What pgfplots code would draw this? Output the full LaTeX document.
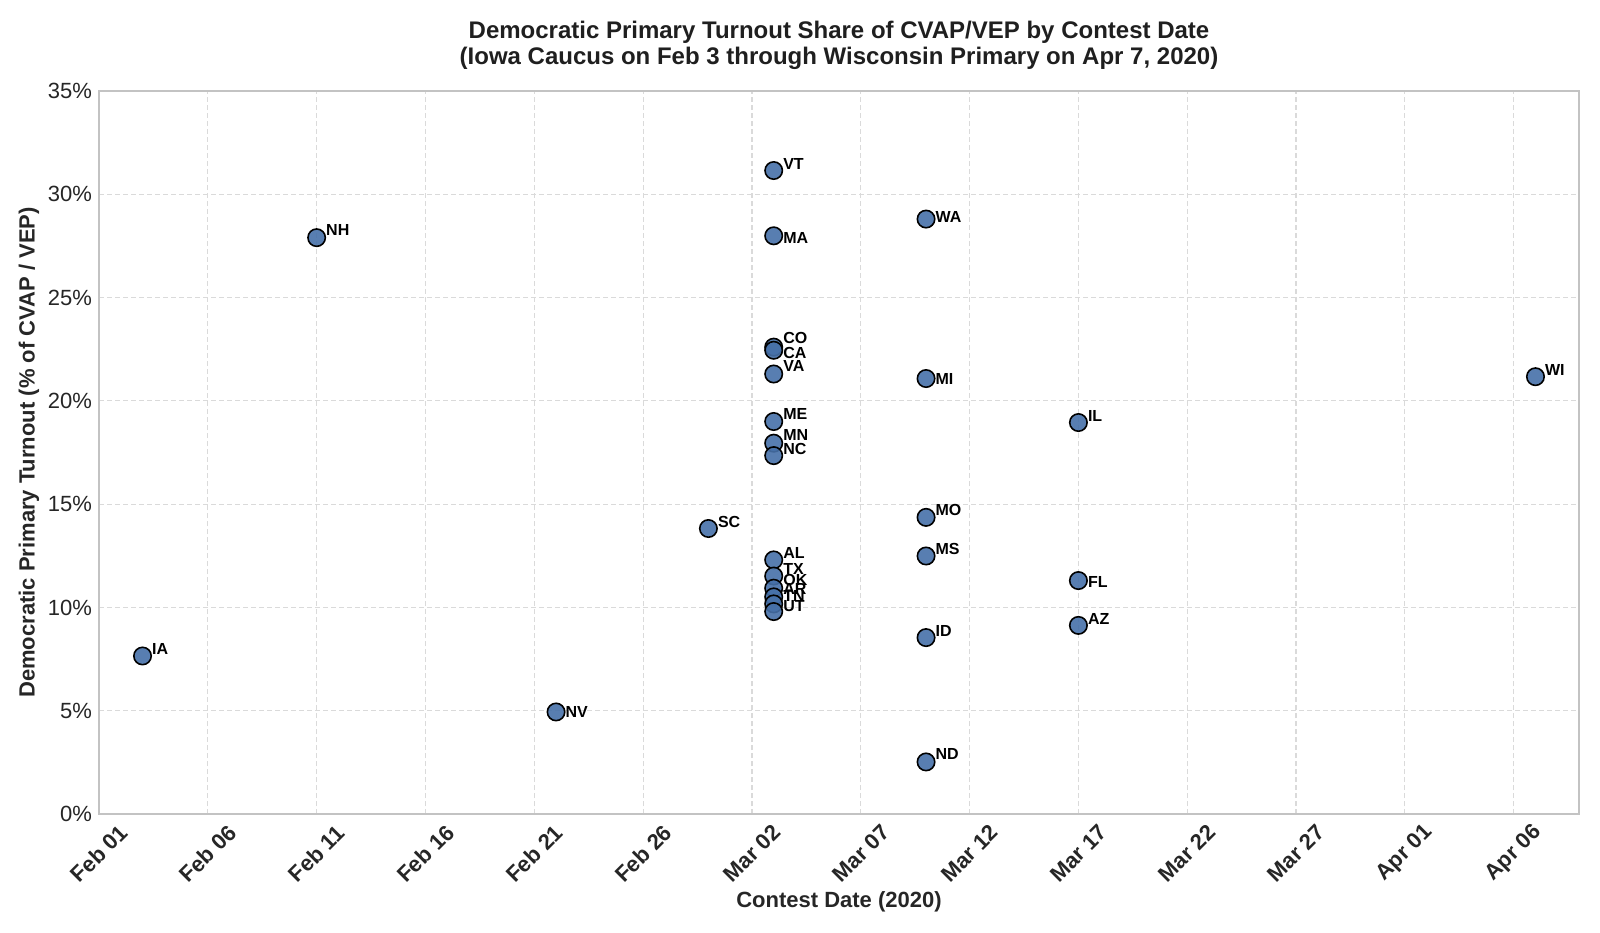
\documentclass[border=0pt]{standalone}
\usepackage{fontspec}
\setmainfont{Liberation Sans}
\usepackage{pgfplots}
\pgfplotsset{compat=1.18}
\usetikzlibrary{calc}
\definecolor{ptfill}{RGB}{70,112,168}
\definecolor{gridc}{RGB}{218,218,218}
\definecolor{axc}{RGB}{195,195,195}
\begin{document}
\begin{tikzpicture}
\begin{axis}[name=ax, scale only axis, width=740bp, height=361.5bp,
  xmin=0, xmax=68, ymin=0, ymax=35,
  xtick={0,5,...,65},
  xticklabels={Feb 01,Feb 06,Feb 11,Feb 16,Feb 21,Feb 26,Mar 02,Mar 07,Mar 12,Mar 17,Mar 22,Mar 27,Apr 01,Apr 06},
  ytick={0,5,...,35},
  yticklabel={\pgfmathprintnumber{\tick}\%},
  /pgf/number format/assume math mode=true,
  major tick length=0pt,
  axis line style={draw=axc, line width=0.7bp},
  grid=major,
  major grid style={draw=gridc, line width=0.6bp, dash pattern=on 2.5bp off 1.5bp},
  tick label style={font=\fontsize{11bp}{13bp}\selectfont, text=black!85},
  xticklabel style={font=\bfseries\fontsize{11bp}{13bp}\selectfont, yshift=-19.75bp, rotate=45, anchor=center},
  xlabel={Contest Date (2020)},
  ylabel={Democratic Primary Turnout (\% of CVAP / VEP)},
  label style={font=\bfseries\fontsize{11bp}{13bp}\selectfont, text=black!85},
  xlabel style={at={(axis description cs:0.5,-0.1217)}, anchor=center},
  ylabel style={at={(axis description cs:-0.0473,0.5)}, anchor=center},
  title={Democratic Primary Turnout Share of CVAP/VEP by Contest Date\\(Iowa Caucus on Feb 3 through Wisconsin Primary on Apr 7, 2020)},
  title style={font=\bfseries\fontsize{12bp}{13bp}\selectfont, align=center, at={(axis description cs:0.5,1)}, anchor=south, inner sep=0pt, yshift=4.7bp, text=black!88},
]
\addplot[only marks, mark=*, mark size=4.35bp,
  mark options={fill=ptfill, draw=black, line width=0.8bp, fill opacity=0.9},
  point meta=explicit symbolic,
  visualization depends on=value \thisrow{dy}\as\dy,
  nodes near coords,
  every node near coord/.style={anchor=base west, inner sep=0pt, xshift=4.4bp, yshift=\dy bp, text=black, font=\bfseries\fontsize{8bp}{9bp}\selectfont, opacity=1, fill opacity=1},
] table[x=x, y=y, meta=lab] {
x y lab dy
2 7.65 IA 0.67
10 27.9 NH 1.18
21 4.94 NV -2.9
28 13.82 SC 0.67
31 31.15 VT 0.67
31 27.99 MA -3.9
31 22.6 CO 1.69
31 22.45 CA -3.9
31 21.3 VA 1.18
31 19.0 ME 1.18
31 17.95 MN 1.18
31 17.35 NC 0.67
31 12.3 AL 0.67
31 11.52 TX 0.67
31 10.93 OK 1.18
31 10.51 AR 1.18
31 10.17 TN 1.18
31 9.8 UT 0.16
38 28.8 WA -1.88
38 21.08 MI -2.9
38 14.36 MO 1.18
38 12.49 MS 0.67
38 8.54 ID 0.67
38 2.52 ND 1.18
45 18.95 IL 0.67
45 11.3 FL -3.41
45 9.13 AZ 0.67
66 21.17 WI 0.67
};
\end{axis}
\path[use as bounding box] ($(ax.south west)+(-49.5bp,-59.5bp)$) rectangle ($(ax.north east)+(10.5bp,45.5bp)$);
\end{tikzpicture}
\end{document}
